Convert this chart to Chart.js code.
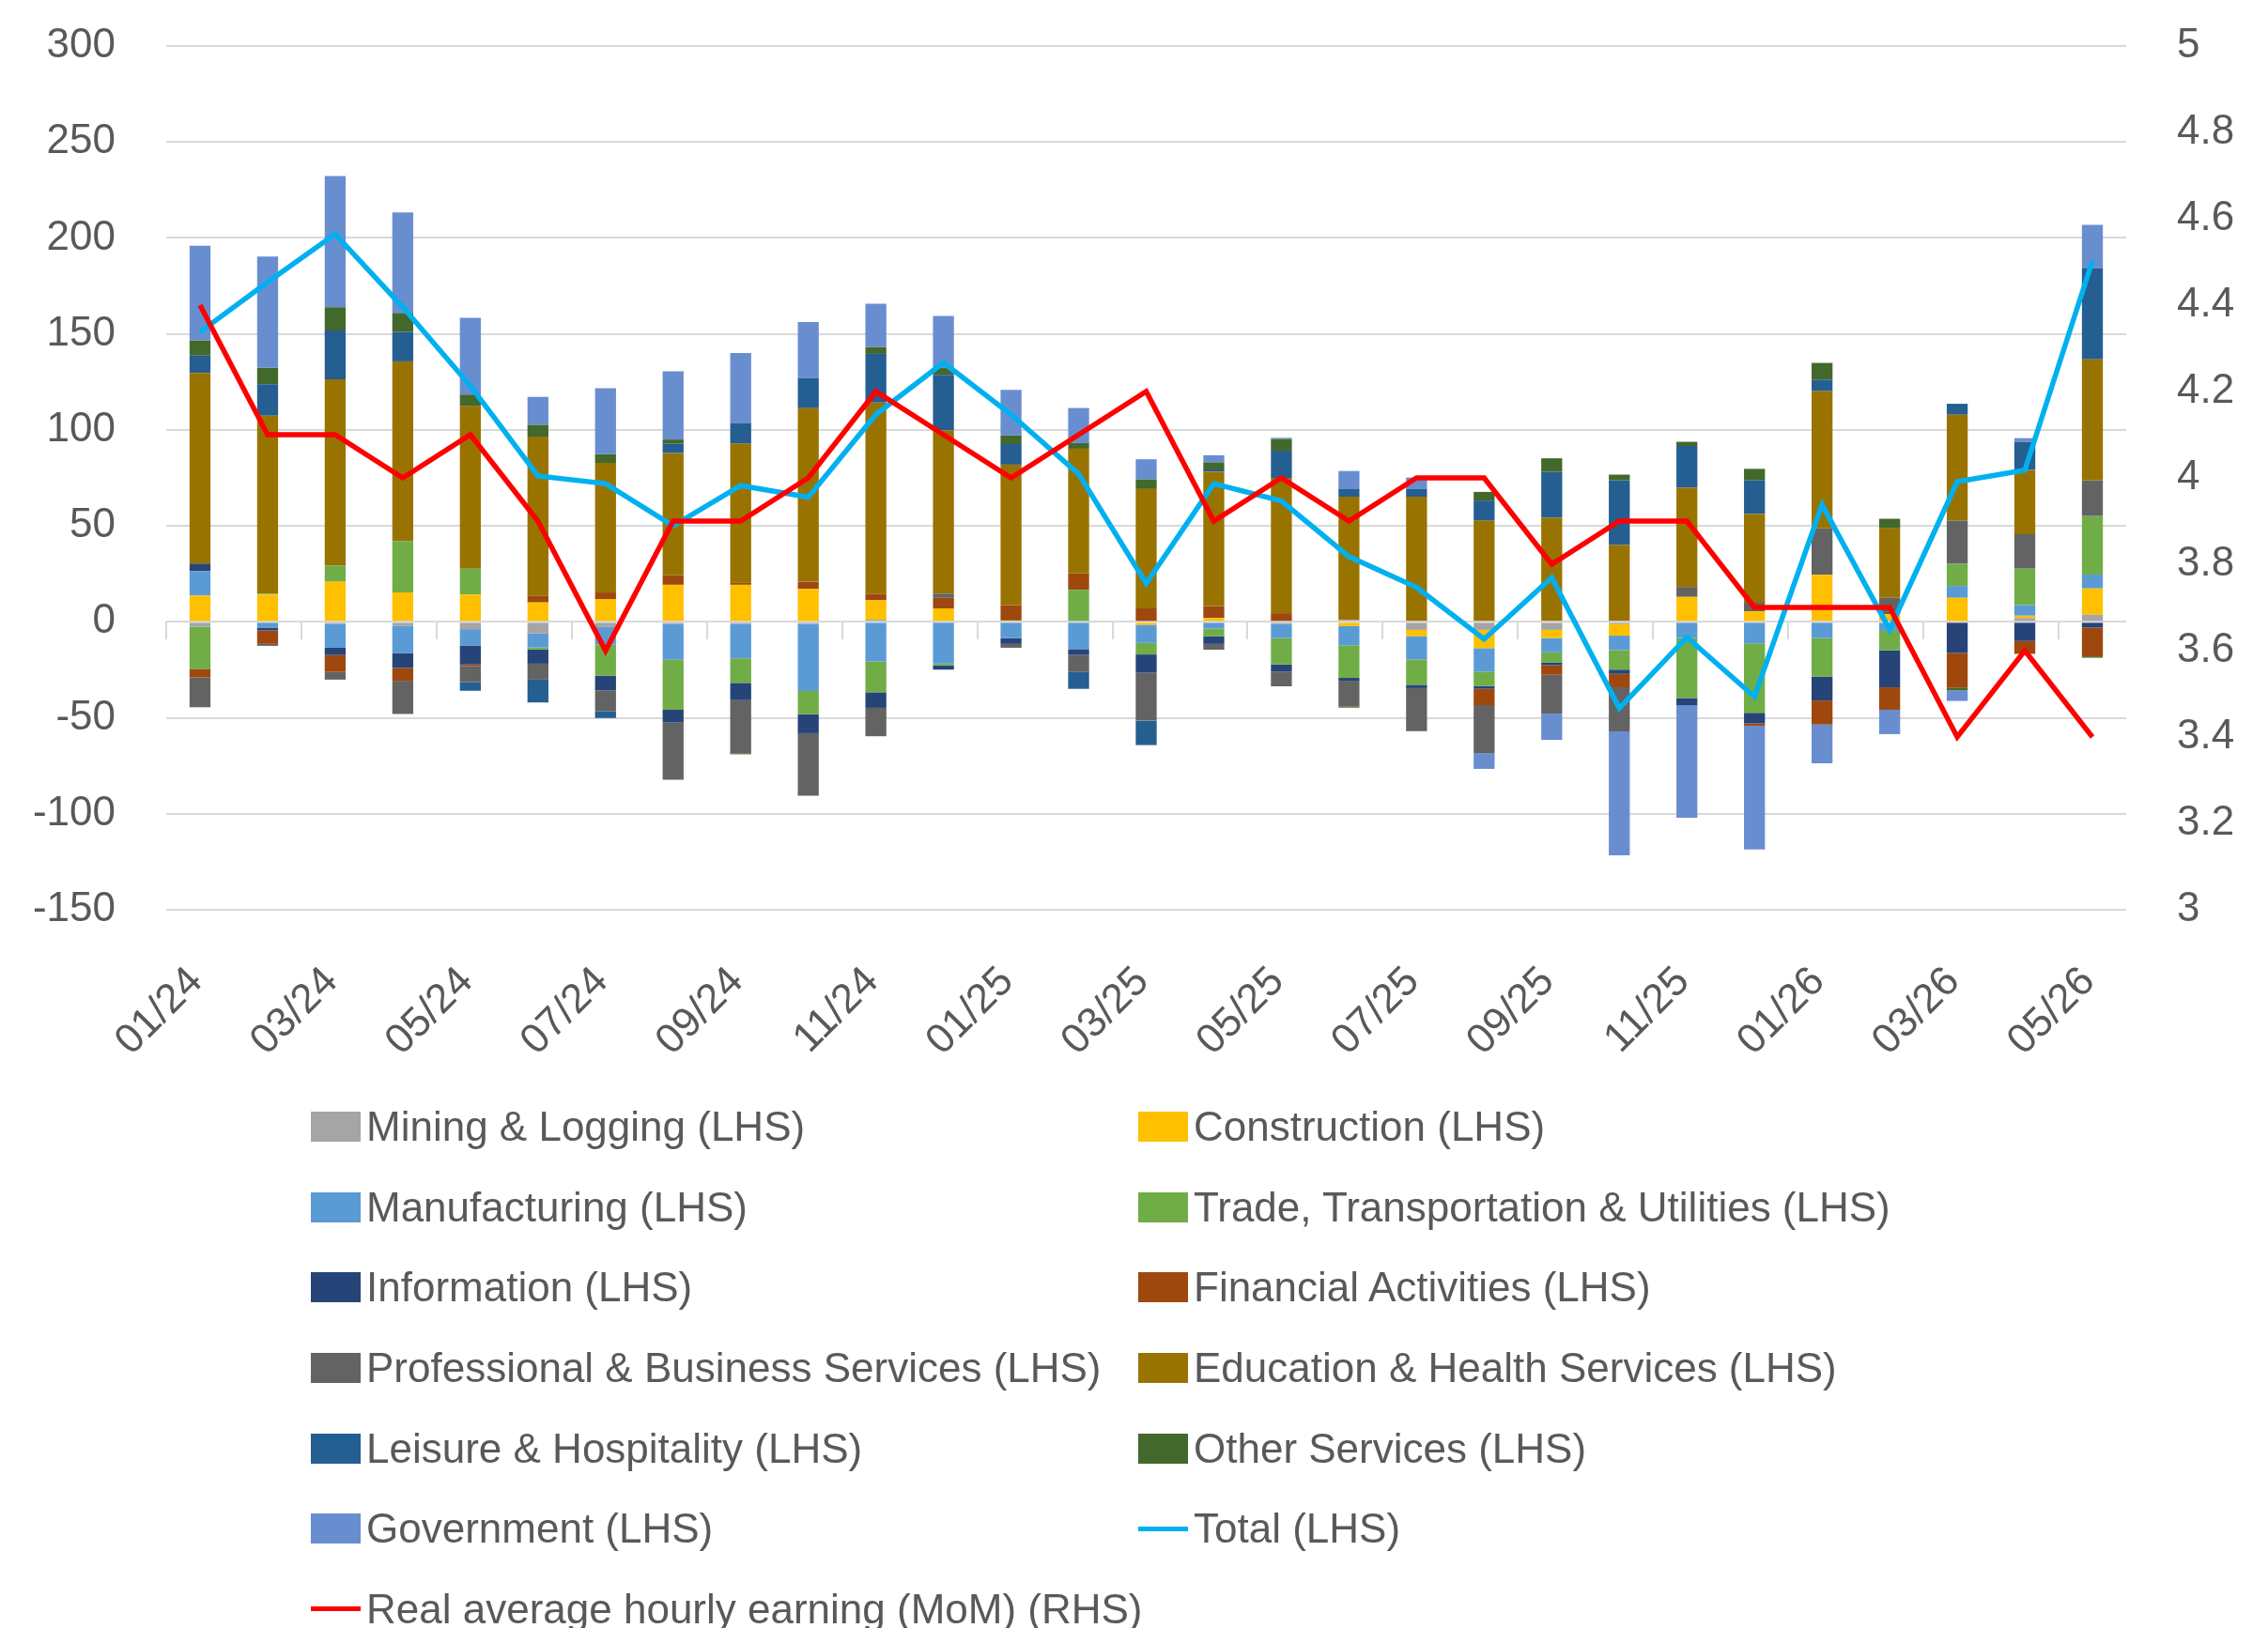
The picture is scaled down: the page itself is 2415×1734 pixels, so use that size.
<!DOCTYPE html>
<html>
<head>
<meta charset="utf-8">
<title>Payrolls by sector</title>
<script src="https://cdn.jsdelivr.net/npm/chart.js@4.4.1/dist/chart.umd.min.js"></script>
<style>
  body { margin: 0; background: #fff; width: 2415px; height: 1734px; overflow: hidden; position: relative;
         font-family: "Liberation Sans", Arial, sans-serif; }
  #wrap { position: absolute; left: 0; top: 0; width: 2415px; height: 1160px; }
  #legend { position: absolute; left: 331px; top: 1157px; display: grid;
            grid-template-columns: 881px 1000px; grid-auto-rows: 85.7px; color: #595959; font-size: 44px; }
  .item { display: flex; align-items: center; white-space: nowrap; }
  .sw { width: 53px; height: 32px; margin-right: 6px; flex: none; }
  .sw.line { height: 5px; }
</style>
</head>
<body>
<div id="wrap"><canvas id="chart" width="2415" height="1160"></canvas></div>
<div id="legend"></div>
<script>
const months = ['01/24','02/24','03/24','04/24','05/24','06/24','07/24','08/24','09/24','10/24','11/24','12/24',
                '01/25','02/25','03/25','04/25','05/25','06/25','07/25','08/25','09/25','10/25','11/25','12/25',
                '01/26','02/26','03/26','04/26','05/26'];

// sector contributions, thousands (LHS)
const mining       = [-2.5, 0, -1, -2, -3.8, -6.1, -2.7, -1, -1, -1, 1.1, 0, 0, 0, 0, 0, -1, 1, -4.2, -4.2, -4.2, -1.2, 0, 0, 0, 0, 0, 2, 3.7];
const construction = [13.7, 14.2, 20.9, 15.3, 14.2, 10.1, 11.9, 19.3, 19.3, 17.1, 10.1, 7, 0.7, 0, -1.5, 2, 0, -2.2, -3.2, -9.5, -4.2, -6, 13, 5.5, 24.5, 4, 12.5, 1.2, 13.7];
const manufacturing= [12.8, -3, -12.5, -14.4, -8.5, -7.2, -9, -18.7, -18, -35, -20.7, -21.7, -8.5, -14.2, -9.5, -3.5, -7.5, -10, -12.2, -12.2, -7.5, -7.5, -8.5, -11.2, -8.5, -4.7, 6.2, 5.5, 7.2];
const trade        = [-22, 0.5, 8.5, 26.8, 13.5, -1.1, -16.4, -26.1, -12.8, -12.1, -16, -1, 0, 16.7, -6, -4, -13.7, -17, -13.2, -7.5, -5.2, -10.2, -31.2, -36.2, -20, -10.2, 11.5, 19, 30.5];
const information  = [3.8, -1.5, -3.8, -7.6, -9.9, -7.4, -7.6, -6.7, -9, -9.9, -8.1, -2.2, -3, -3, -9.5, -4, -3.7, -1.5, -1.7, -1.5, -1.5, -2.2, -3.7, -5.5, -12.5, -19.2, -16.2, -10, -3];
const financial    = [-4.5, -7, -8.8, -6.7, -0.9, 3.4, 3.4, 4.9, 1.1, 3.8, 3.4, 5.5, 8, 8.5, 7, 6.2, 4.5, 0, 0, -8.5, -5, -7, 0, -1.2, -12.5, -11.7, -18, -6.7, -15];
const professional = [-15.5, -1, -4, -17.3, -8.3, -8.3, -10.8, -29.7, -27.7, -32.6, -14.8, 2.2, -2, -8.7, -25, -3, -7.7, -13.5, -22.5, -25, -20.2, -23, 5.2, 4.5, 24.2, 8.5, 22.5, 18, 18.5];
const education    = [99.4, 92.7, 97, 93.6, 84.6, 83, 67.5, 63.7, 72.4, 90.4, 99.6, 85, 73.2, 65, 62.2, 70, 70.5, 64.2, 65.2, 52.7, 54.2, 40, 51.7, 46.2, 71.5, 36.2, 55.2, 33.5, 63.2];
const leisure      = [9, 16.4, 25.4, 15.3, -4.5, -11.9, -3.6, 4.9, 10.8, 15.7, 25.4, 29, 10.7, -9, -12.7, 1.2, 14.2, 4.2, 4, 10.5, 24, 33.7, 21.7, 17.5, 6, 0, 5.7, 14.5, 47.5];
const otherServ    = [7.9, 8.5, 12.1, 9.9, 6.1, 6.1, 4.5, 2.2, -0.5, 0, 3.6, 3.5, 4.5, 3, 5, 3.7, 6, -0.5, 0, 4.5, 7, 3, 2.2, 6, 8.7, 5, -1.5, 0, -0.7];
const government   = [49.3, 58, 68.4, 52.4, 40, 14.6, 34.4, 35.5, 36.4, 29.2, 22.5, 27.2, 23.7, 18.2, 10.5, 3.7, 0.7, 9.2, 6, -8.2, -13.7, -64.5, -58.7, -64.5, -20.2, -12.7, -5.5, 2, 22.5];

const total   = [151, 177, 202, 164, 123, 76, 72, 50, 71, 65, 108, 135, 108, 77, 20, 72, 63, 34, 18, -9, 23, -45, -8, -39, 61, -4, 73, 79, 188];
// RHS
const realAhe = [4.4, 4.1, 4.1, 4.0, 4.1, 3.9, 3.6, 3.9, 3.9, 4.0, 4.2, 4.1, 4.0, 4.1, 4.2, 3.9, 4.0, 3.9, 4.0, 4.0, 3.8, 3.9, 3.9, 3.7, 3.7, 3.7, 3.4, 3.6, 3.4];

const sectorNames = ['Mining & Logging (LHS)', 'Construction (LHS)', 'Manufacturing (LHS)',
  'Trade, Transportation & Utilities (LHS)', 'Information (LHS)', 'Financial Activities (LHS)',
  'Professional & Business Services (LHS)', 'Education & Health Services (LHS)',
  'Leisure & Hospitality (LHS)', 'Other Services (LHS)', 'Government (LHS)'];
const sectorData = [mining, construction, manufacturing, trade, information, financial,
  professional, education, leisure, otherServ, government];
const sectorColors = ['#A5A5A5', '#FFC000', '#5B9BD5', '#70AD47', '#264478', '#9E480E',
  '#636363', '#997300', '#255E91', '#43682B', '#698ED0'];

const textColor = '#595959';
const gridColor = '#d9d9d9';
const font = { family: '"Liberation Sans", Arial, sans-serif', size: 44 };

const datasets = sectorNames.map((name, i) => ({
  type: 'bar',
  label: name,
  data: sectorData[i],
  backgroundColor: sectorColors[i],
  borderWidth: 0,
  yAxisID: 'y',
  stack: 'sectors',
  order: 2,
  barPercentage: 0.31,
  categoryPercentage: 1
}));
datasets.push({
  type: 'line', label: 'Total (LHS)', data: total, yAxisID: 'y', stack: 'total',
  borderColor: '#00B0F0', backgroundColor: '#00B0F0', borderWidth: 5.5, pointRadius: 0, tension: 0, order: 1
});
datasets.push({
  type: 'line', label: 'Real average hourly earning (MoM) (RHS)', data: realAhe, yAxisID: 'y1',
  borderColor: '#FF0000', backgroundColor: '#FF0000', borderWidth: 5.5, pointRadius: 0, tension: 0, order: 0
});

// keep tick padding from pushing the plot area down
const noPad = s => { s.paddingTop = 0; s.paddingBottom = 0; };

const chart = new Chart(document.getElementById('chart').getContext('2d'), {
  data: { labels: months, datasets: datasets },
  options: {
    responsive: false,
    animation: false,
    devicePixelRatio: 1,
    layout: { padding: { top: 49, left: 0, right: 0, bottom: 0 } },
    plugins: { legend: { display: false }, tooltip: { enabled: false } },
    scales: {
      x: {
        stacked: true,
        grid: { display: false, drawTicks: false },
        border: { display: false },
        ticks: {
          autoSkip: false, maxRotation: 45, minRotation: 45, padding: 51, labelOffset: -4,
          color: textColor, font: font,
          callback: function (v, i) { return i % 2 === 0 ? this.getLabelForValue(v) : ''; }
        },
        afterFit: s => { s.height = 1160 - 969; }
      },
      // small tick marks on the zero line, every other month
      x2: {
        type: 'category', axis: 'x', position: { y: 0 }, offset: true,
        grid: {
          offset: true, drawOnChartArea: false, drawTicks: true, tickLength: 19, lineWidth: 2,
          color: ctx => ctx.index % 2 === 0 ? gridColor : 'rgba(0,0,0,0)'
        },
        border: { display: false },
        ticks: { display: false }
      },
      y: {
        stacked: true, min: -150, max: 300,
        ticks: { stepSize: 50, padding: 54, color: textColor, font: font },
        grid: { color: gridColor, lineWidth: 2, drawTicks: false },
        border: { display: false },
        afterFit: s => { s.width = 177; noPad(s); }
      },
      y1: {
        position: 'right', min: 3, max: 5,
        ticks: { stepSize: 0.2, padding: 54, color: textColor, font: font,
                 callback: v => String(+v.toFixed(1)) },
        grid: { display: false, drawOnChartArea: false, drawTicks: false },
        border: { display: false },
        afterFit: s => { s.width = 151; noPad(s); }
      }
    }
  }
});

// legend in two columns like the original
const legend = document.getElementById('legend');
chart.data.datasets.forEach(ds => {
  const item = document.createElement('div');
  item.className = 'item';
  const sw = document.createElement('span');
  sw.className = ds.type === 'line' ? 'sw line' : 'sw';
  sw.style.background = ds.type === 'line' ? ds.borderColor : ds.backgroundColor;
  const txt = document.createElement('span');
  txt.textContent = ds.label;
  item.appendChild(sw);
  item.appendChild(txt);
  legend.appendChild(item);
});
</script>
</body>
</html>
